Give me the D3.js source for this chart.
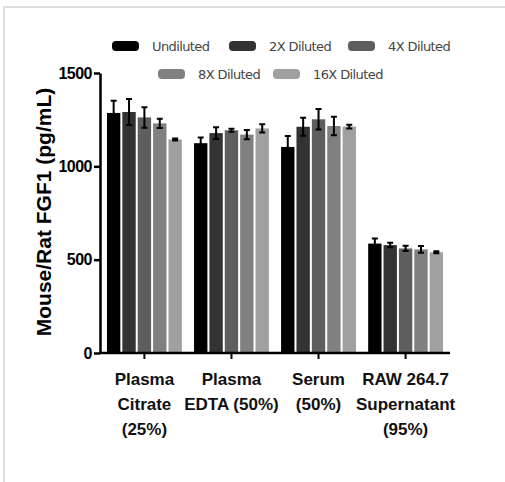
<!DOCTYPE html>
<html>
<head>
<meta charset="utf-8">
<script src="https://cdn.jsdelivr.net/npm/d3@7"></script>
<style>
  body { margin: 0; background: #fff; }
  svg { display: block; }
</style>
</head>
<body>
<script>
// samples and dilutions
var samples = [
    ["Plasma", "Citrate", "(25%)"],
    ["Plasma", "EDTA (50%)"],
    ["Serum", "(50%)"],
    ["RAW 264.7", "Supernatant", "(95%)"]
];
var dilutions = ["Undiluted", "2X Diluted", "4X Diluted", "8X Diluted", "16X Diluted"];
var colors = ["#000000", "#333333", "#5e5e5e", "#808080", "#a0a0a0"];

// mean values, one array per sample (in dilution order)
var means = [
    [1286, 1291, 1262, 1230, 1144],
    [1124, 1178, 1193, 1170, 1203],
    [1104, 1212, 1252, 1216, 1213],
    [586, 578, 560, 555, 540]
];
// error (+/-)
var errs = [
    [65, 70, 55, 25, 5],
    [30, 32, 8, 25, 22],
    [58, 48, 55, 50, 10],
    [27, 12, 14, 18, 5]
];
var yTicks = [0, 500, 1000, 1500];

var width = 505, height = 482;
var margins = {left: 100, top: 73, right: 55, bottom: 129};
var boldFont = "'Liberation Sans', Arial, sans-serif";

var svg = d3.select("body").append("svg")
    .attr("width", width)
    .attr("height", height);

// light frame
svg.append("path")
    .attr("d", "M4,482 L4,7 L505,7")
    .attr("fill", "none")
    .attr("stroke", "#dedede")
    .attr("stroke-width", 2);

var x0 = d3.scaleBand()
    .domain(d3.range(samples.length))
    .range([margins.left, width - margins.right])
    .paddingInner(0.14)
    .paddingOuter(0.08);

var x1 = d3.scaleBand()
    .domain(d3.range(dilutions.length))
    .range([0, x0.bandwidth()])
    .paddingInner(0.13);

var y = d3.scaleLinear()
    .domain([0, 1500])
    .range([height - margins.bottom, margins.top]);

// bars
var groups = svg.selectAll(".group")
    .data(means)
    .enter().append("g")
        .attr("class", "group")
        .attr("transform", function(d, i) { return "translate(" + x0(i) + ",0)"; });

function cells(d, i) {
    return d.map(function(v, j) { return {v: v, j: j, e: errs[i][j]}; });
}

groups.selectAll("rect")
    .data(cells)
    .enter().append("rect")
        .attr("x", function(d) { return x1(d.j); })
        .attr("y", function(d) { return y(d.v); })
        .attr("width", x1.bandwidth())
        .attr("height", function(d) { return y(0) - y(d.v); })
        .attr("fill", function(d) { return colors[d.j]; });

// error bars
groups.selectAll(".err")
    .data(cells)
    .enter().append("path")
        .attr("class", "err")
        .attr("fill", "none")
        .attr("stroke", "#000")
        .attr("stroke-width", 2)
        .attr("d", function(d) {
            var cx = x1(d.j) + x1.bandwidth() / 2,
                t = y(d.v + d.e), b = y(d.v - d.e), w = 3;
            return "M" + cx + "," + t + "V" + b +
                "M" + (cx - w) + "," + t + "H" + (cx + w) +
                "M" + (cx - w) + "," + b + "H" + (cx + w);
        });

// y axis
var yAxis = svg.append("g")
    .attr("transform", "translate(" + margins.left + ",0)")
    .call(d3.axisLeft(y).tickValues(yTicks).tickFormat(d3.format("d"))
        .tickSize(6).tickPadding(2).tickSizeOuter(0));
yAxis.attr("font-family", boldFont);
yAxis.select(".domain").attr("stroke-width", 2.5);
yAxis.selectAll(".tick line").attr("stroke-width", 2.5);
yAxis.selectAll("text")
    .attr("font-weight", "bold")
    .attr("font-size", 16)
    .attr("letter-spacing", -0.5)
    .attr("fill", "#000");

// x axis
var xAxis = svg.append("g")
    .attr("transform", "translate(0," + y(0) + ")");
xAxis.append("line")
    .attr("x1", margins.left - 1).attr("x2", width - margins.right)
    .attr("stroke", "#000").attr("stroke-width", 2.5);
xAxis.selectAll(".xt")
    .data(samples)
    .enter().append("line")
        .attr("class", "xt")
        .attr("x1", function(d, i) { return x0(i) + x0.bandwidth() / 2; })
        .attr("x2", function(d, i) { return x0(i) + x0.bandwidth() / 2; })
        .attr("y1", 0).attr("y2", 6)
        .attr("stroke", "#000").attr("stroke-width", 2);

var labels = xAxis.selectAll(".xl")
    .data(samples)
    .enter().append("text")
        .attr("class", "xl")
        .attr("text-anchor", "middle")
        .attr("font-family", boldFont)
        .attr("font-weight", "bold")
        .attr("font-size", 17)
        .attr("fill", "#111")
        .attr("transform", function(d, i) { return "translate(" + (x0(i) + x0.bandwidth() / 2) + ",0)"; });
labels.selectAll("tspan")
    .data(function(d) { return d; })
    .enter().append("tspan")
        .attr("x", 0)
        .attr("y", function(d, i) { return 32 + i * 25; })
        .text(function(d) { return d; });

// y title
svg.append("text")
    .attr("transform", "translate(51," + ((y(0) + y(1500)) / 2 - 1) + ") rotate(-90)")
    .attr("text-anchor", "middle")
    .attr("font-family", boldFont)
    .attr("font-weight", "bold")
    .attr("font-size", 21)
    .attr("fill", "#000")
    .text("Mouse/Rat FGF1 (pg/mL)");

// legend
var legendPos = [[112, 46], [229, 46], [348, 46], [158, 74], [273, 74]];
var legend = svg.selectAll(".legend")
    .data(dilutions)
    .enter().append("g")
        .attr("class", "legend")
        .attr("transform", function(d, i) { return "translate(" + legendPos[i][0] + "," + legendPos[i][1] + ")"; });
legend.append("rect")
    .attr("x", 0).attr("y", -5)
    .attr("width", 27).attr("height", 10)
    .attr("rx", 4)
    .attr("fill", function(d, i) { return colors[i]; });
legend.append("text")
    .attr("x", 40)
    .attr("dy", "0.35em")
    .attr("font-family", "'DejaVu Sans', sans-serif")
    .attr("font-size", 13)
    .attr("letter-spacing", -0.6)
    .attr("fill", "#444")
    .text(function(d) { return d; });
</script>
</body>
</html>
